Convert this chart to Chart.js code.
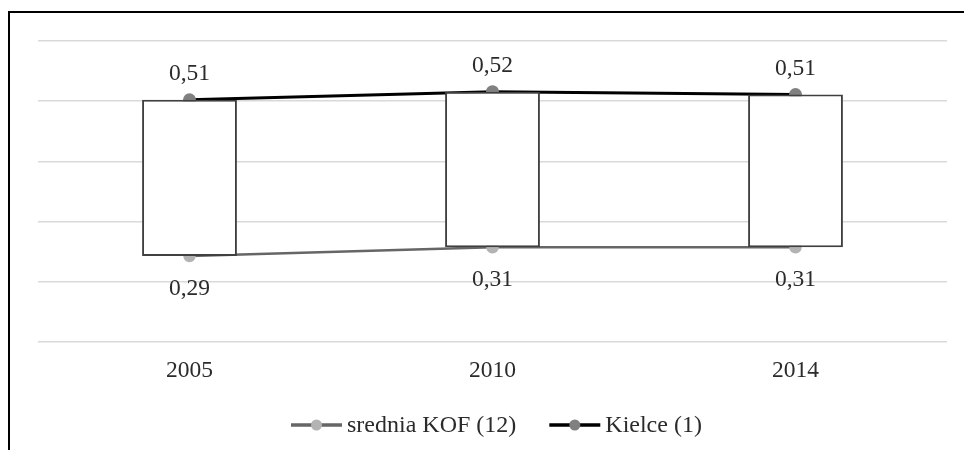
<!DOCTYPE html>
<html>
<head>
<meta charset="utf-8">
<script src="https://cdn.jsdelivr.net/npm/chart.js@4/dist/chart.umd.min.js"></script>
<style>
  body { margin: 0; background: #fff; overflow: hidden; }
  #frame { position: absolute; left: 8px; top: 11px; width: 1100px; height: 600px;
           border-left: 2px solid #000; border-top: 2px solid #000; }
  #wrap { position: absolute; left: 0; top: 0; width: 964px; height: 450px; }
</style>
</head>
<body>
<div id="frame"></div>
<div id="wrap"><canvas id="chart"></canvas></div>
<script>
// dane
const years = ["2005", "2010", "2014"];
const sredniaKof = [0.294, 0.306, 0.306];
const kielce = [0.507, 0.518, 0.514];
const yGrid = [0.177, 0.259, 0.341, 0.423, 0.505, 0.587];
const legendNames = ["srednia KOF (12)", "Kielce (1)"];

const FONT = "'Liberation Serif', 'Times New Roman', serif";
const TEXT = "#2b2b2b";

function fmt(v) {
    return v.toFixed(2).replace(".", ",");
}

// etykiety danych nad / pod punktami
const valueLabels = {
    id: "valueLabels",
    afterDatasetsDraw(chart) {
        const ctx = chart.ctx;
        ctx.save();
        ctx.font = "23.5px " + FONT;
        ctx.fillStyle = TEXT;
        ctx.textAlign = "center";
        ctx.textBaseline = "alphabetic";
        [0, 1].forEach(di => {
            const meta = chart.getDatasetMeta(di);
            const ds = chart.data.datasets[di];
            meta.data.forEach((pt, i) => {
                const dy = di === 1 ? -20 : 39;
                ctx.fillText(fmt(ds.data[i]), pt.x, pt.y + dy);
            });
        });
        ctx.restore();
    }
};

// legenda: linia z kropka + tekst
const lineLegend = {
    id: "lineLegend",
    afterDraw(chart) {
        const ctx = chart.ctx;
        const items = [
            { text: legendNames[0], line: "#666666", dot: "#b3b3b3" },
            { text: legendNames[1], line: "#000000", dot: "#808080" }
        ];
        const lineW = 51, gapText = 5, gapItem = 33, y = 425;
        ctx.save();
        ctx.font = "24px " + FONT;
        let x = 291;
        items.forEach((it, i) => {
            if (i > 0) x += gapItem;
            ctx.strokeStyle = it.line;
            ctx.lineWidth = 3.5;
            ctx.beginPath();
            ctx.moveTo(x, y);
            ctx.lineTo(x + lineW, y);
            ctx.stroke();
            ctx.fillStyle = it.dot;
            ctx.beginPath();
            ctx.arc(x + lineW / 2, y, 5.5, 0, Math.PI * 2);
            ctx.fill();
            x += lineW + gapText;
            ctx.fillStyle = TEXT;
            ctx.textAlign = "left";
            ctx.textBaseline = "middle";
            ctx.fillText(it.text, x, y + 1);
            x += ctx.measureText(it.text).width;
        });
        ctx.restore();
    }
};

new Chart(document.getElementById("chart"), {
    type: "line",
    data: {
        labels: years,
        datasets: [
            {
                label: legendNames[0],
                data: sredniaKof,
                borderColor: "#666666",
                borderWidth: 2.5,
                pointBackgroundColor: "#b3b3b3",
                pointBorderColor: "#b3b3b3",
                pointRadius: 5,
                tension: 0,
                order: 2
            },
            {
                label: legendNames[1],
                data: kielce,
                borderColor: "#000000",
                borderWidth: 3,
                pointBackgroundColor: "#808080",
                pointBorderColor: "#808080",
                pointRadius: 5,
                tension: 0,
                order: 1
            },
            {
                type: "bar",
                label: "up-down",
                data: years.map((y, i) => [sredniaKof[i], kielce[i]]),
                backgroundColor: "#ffffff",
                borderColor: "#404040",
                borderWidth: 2,
                borderSkipped: false,
                categoryPercentage: 1,
                barPercentage: 0.313,
                order: 0
            }
        ]
    },
    options: {
        responsive: true,
        maintainAspectRatio: false,
        animation: false,
        devicePixelRatio: 1,
        layout: { padding: { left: 38, right: 17, top: 41, bottom: 0 } },
        plugins: {
            legend: { display: false },
            tooltip: { enabled: false }
        },
        scales: {
            x: {
                type: "category",
                offset: true,
                grid: { display: false },
                border: { display: false },
                ticks: { font: { family: FONT, size: 23.5 }, color: TEXT, padding: 7 },
                afterFit: (axis) => { axis.height = 108; }
            },
            y: {
                min: yGrid[0],
                max: yGrid[yGrid.length - 1],
                afterBuildTicks: (axis) => { axis.ticks = yGrid.map(v => ({ value: v })); },
                grid: { color: "#d9d9d9", lineWidth: 1.5, drawTicks: false },
                border: { display: false },
                ticks: { display: false },
                afterFit: (axis) => { axis.width = 0; }
            }
        }
    },
    plugins: [valueLabels, lineLegend]
});
</script>
</body>
</html>
